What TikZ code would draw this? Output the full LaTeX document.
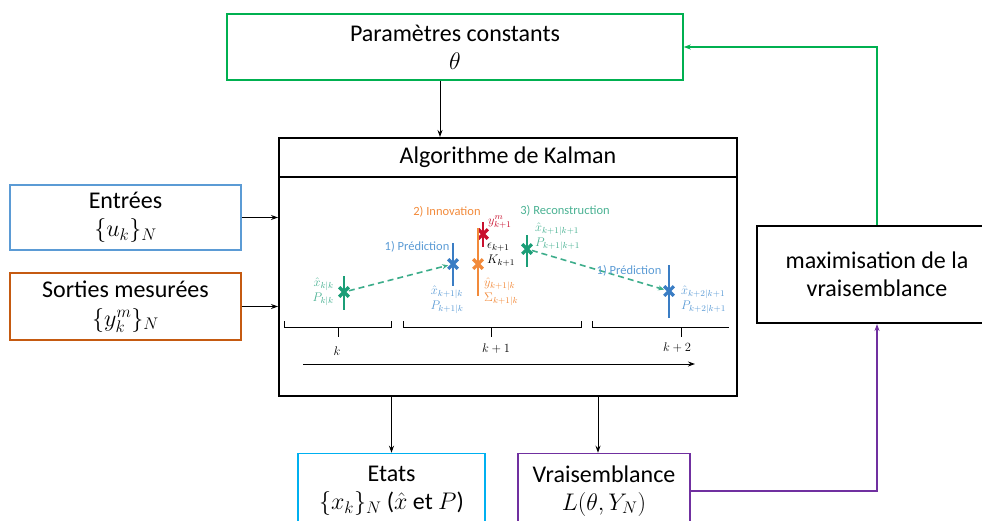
\RequirePackage{fix-cm}
\documentclass[tikz,border=0pt]{standalone}
\usepackage{fontspec}
\setmainfont{Carlito}
\usetikzlibrary{arrows.meta,positioning,shapes.misc,calc}
\definecolor{boxgreen}{HTML}{00B050}
\definecolor{boxblue}{HTML}{5B9BD5}
\definecolor{boxorange}{HTML}{C55A11}
\definecolor{boxcyan}{HTML}{00B0F0}
\definecolor{boxpurple}{HTML}{7030A0}
\definecolor{kgreen}{HTML}{1B9E77}
\definecolor{kblue}{HTML}{3A7DC4}
\definecolor{korange}{HTML}{F28A3A}
\definecolor{kred}{HTML}{C8102E}

\begin{document}
\begin{tikzpicture}[x=1pt,y=-1pt,
  blk/.style={draw,line width=1.5pt,fill=white,align=center,inner sep=0pt,
    font=\fontsize{24}{28}\selectfont},
  link/.style={-{Stealth[length=7pt,width=5pt]},line width=1pt},
  mk/.style={cross out,draw,line width=3.2pt,minimum size=6.5pt,inner sep=0pt},
  bar/.style={line width=1.6pt},
  lbl/.style={font=\fontsize{12.5}{15}\selectfont,inner sep=0pt},
  tick/.style={line width=1pt}]
  \useasboundingbox (0,0) rectangle (982,520);

  % blocks
  \node[blk,draw=boxgreen,minimum width=456pt,minimum height=66pt] (params) at (455,47)
    {Paramètres constants\\$\theta$};
  \node[draw,line width=2pt,minimum width=458pt,minimum height=258pt] (kalman) at (508,267) {};
  \node[blk,line width=2pt,anchor=north,minimum width=458pt,minimum height=39pt] (kalmantitle)
    at (kalman.north) {Algorithme de Kalman};
  \node[blk,draw=boxblue,minimum width=231pt,minimum height=65pt] (entrees) at (125.5,217.5)
    {Entrées\\$\{u_k\}_N$};
  \node[blk,draw=boxorange,minimum width=231pt,minimum height=67pt] (sorties) at (125.5,306.5)
    {Sorties mesurées\\[1pt]$\{y_k^m\}_N$};
  \node[blk,draw=boxcyan,minimum width=187pt,minimum height=75pt] (etats) at (391.5,491)
    {Etats\\$\{x_k\}_N$ ($\hat{x}$ et $P$)};
  \node[blk,draw=boxpurple,minimum width=172pt,minimum height=75pt] (vrais) at (604,491)
    {Vraisemblance\\$L(\theta,Y_N)$};
  \node[blk,line width=2pt,minimum width=240pt,minimum height=97pt] (maxim) at (877,274.5)
    {maximisation de la\\vraisemblance};

  % links
  \draw[link] ([xshift=-15pt]params.south) -- ([xshift=-15pt]params.south |- kalmantitle.north);
  \draw[link] (entrees.east) -- (entrees.east -| kalman.west);
  \draw[link] (sorties.east) -- (sorties.east -| kalman.west);
  \draw[link] (kalman.south -| etats.north) -- (etats.north);
  \draw[link] ([xshift=-6pt]kalman.south -| vrais.north) -- ([xshift=-6pt]vrais.north);
  \draw[link,boxgreen,line width=1.5pt] (maxim.north) |- (params.east);
  \draw[link,boxpurple,line width=1.5pt] (vrais.east) -| (maxim.south);

  % inside the Kalman block
  \node[mk,draw=kgreen] (xkk) at (344,292) {};
  \node[mk,draw=kblue] (xpred) at (453,264) {};
  \node[mk,draw=korange] (yinn) at (478,264) {};
  \node[mk,draw=kred] (ymeas) at (483,234) {};
  \node[mk,draw=kgreen] (xrec) at (527,249) {};
  \node[mk,draw=kblue] (xpred2) at (669,291) {};
  \draw[bar,kgreen] (xkk.center) ++(0,-16) -- ++(0,34);
  \draw[bar,kblue] (xpred.center) ++(0,-21) -- ++(0,43);
  \draw[bar,korange] (yinn.center) ++(0,-36) -- ++(0,68);
  \draw[bar,kred] (ymeas.center) ++(0,-12) -- ++(0,25);
  \draw[bar,kgreen] (xrec.center) ++(0,-14) -- ++(0,32);
  \draw[bar,kblue] (xpred2.center) ++(0,-26) -- ++(0,53);
  \draw[kgreen!85,line width=1.6pt,dash pattern=on 6pt off 4pt,-{Stealth[length=6pt,width=5pt]}]
    (xkk) -- (xpred);
  \draw[kgreen!85,line width=1.6pt,dash pattern=on 6pt off 4pt,-{Stealth[length=6pt,width=5pt]}]
    (xrec) -- (xpred2);

  \node[lbl,kgreen!80,anchor=east,align=right] at (334,292) {$\hat{x}_{k|k}$\\$P_{k|k}$};
  \node[lbl,boxblue] at (417,247) {1) Prédiction};
  \node[lbl,boxblue,align=center] at (447,300) {$\hat{x}_{k+1|k}$\\$P_{k+1|k}$};
  \node[lbl,korange] at (447,212) {2) Innovation};
  \node[lbl,kred,anchor=west] at (488,222) {$y_{k+1}^m$};
  \node[lbl,anchor=west,align=left] at (487,255) {$\epsilon_{k+1}$\\$K_{k+1}$};
  \node[lbl,korange,anchor=west,align=left] at (484,292) {$\hat{y}_{k+1|k}$\\$\Sigma_{k+1|k}$};
  \node[lbl,kgreen!80] at (565,211) {3) Reconstruction};
  \node[lbl,kgreen!80,anchor=west,align=left] at (535,237) {$\hat{x}_{k+1|k+1}$\\$P_{k+1|k+1}$};
  \node[lbl,boxblue] at (629,271) {1) Prédiction};
  \node[lbl,boxblue,anchor=west,align=left] at (681,300) {$\hat{x}_{k+2|k+1}$\\$P_{k+2|k+1}$};

  % time steps
  \draw[tick] (284,321) -- (284,327) -- (391,327) -- (391,321) (338,327) -- (338,337);
  \draw[tick] (403,321) -- (403,327) -- (581,327) -- (581,321) (491,327) -- (491,337);
  \draw[tick] (592,321) -- (592,327) -- (729,327) (681,327) -- (681,337);
  \node[lbl] (tk) at (337,351) {$k$};
  \node[lbl] (tk1) at (496,349) {$k+1$};
  \node[lbl] (tk2) at (677,348) {$k+2$};
  \draw[link] (303,364) -- (695,364);
\end{tikzpicture}
\end{document}
